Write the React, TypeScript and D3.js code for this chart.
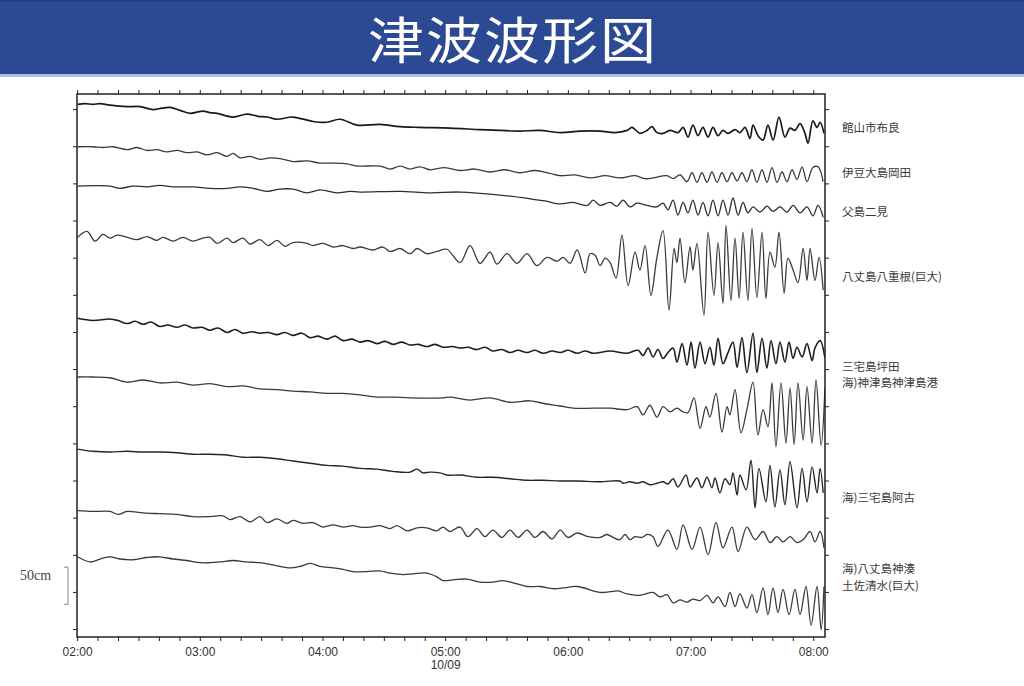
import React from "react";
import * as d3 from "d3";

// ---------- DATA ----------
// time in minutes after 02:00 (10/09), sea level deviation in cm
const stationNames = [
  "館山市布良",
  "伊豆大島岡田",
  "父島二見",
  "八丈島八重根(巨大)",
  "三宅島坪田",
  "海)神津島神津島港",
  "海)三宅島阿古",
  "海)八丈島神湊",
  "土佐清水(巨大)",
];

// vertical offset of each trace on the cm axis
const traceOffsets = [707, 650, 597, 528, 419, 340, 243, 160, 98];
// label anchor level (cm axis)
const labelLevels = [676, 616, 563, 476, 355, 333, 178, 83, 60];

const tateyama: [number, number][] = [
  [0,0],[3.6,1],[7.5,0],[11,1],[15.8,-1],[24.2,-3],[30.5,-3],[36.9,-7],[41.3,-5],[45.2,-4],[50.1,-8],[55,-12],[61.3,-9],[64.7,-11],[68.2,-12],[76,-17],[82.8,-13],[88.2,-16],[92.6,-17],[97.5,-20],[105.3,-17],[115.1,-23],[121.9,-24],[128.3,-20],[136.6,-28],[147.9,-27],[157.7,-30],[167.4,-31],[182.1,-32],[196.8,-34],[206.5,-35],[216.3,-36],[226.1,-35],[236,-38],[245.7,-36],[255.5,-36],[262.8,-38],[268.7,-35],[271.1,-31],[275,-39],[278.5,-35],[280.9,-30],[283.3,-38],[286.3,-39],[289.7,-35],[293.6,-38],[296.1,-31],[298.5,-44],[300.9,-28],[303.4,-42],[305.8,-31],[308.3,-44],[310.7,-31],[313.2,-42],[315.6,-35],[318.1,-39],[321.5,-34],[323.9,-38],[326.4,-31],[328.8,-46],[330.3,-28],[332.7,-42],[335.2,-48],[337.6,-28],[340.1,-48],[343,-17],[345.9,-44],[348.4,-32],[350.8,-35],[353.3,-26],[355.7,-39],[357.2,-52],[359.6,-22],[361.6,-31],[363.1,-24],[365,-39],
];

const izuOshima: [number, number][] = [
  [0,0],[7.5,0],[12.4,-1],[17.3,0],[24.2,-4],[29,-1],[33.9,-5],[38.8,-4],[43.7,-7],[48.6,-5],[53.5,-8],[58.4,-7],[63.3,-11],[68.2,-8],[73.1,-13],[76,-9],[79.4,-15],[84.3,-13],[89.2,-17],[94.1,-15],[99,-16],[105.3,-20],[112.2,-19],[118.5,-22],[124.9,-22],[131.7,-23],[136.6,-26],[147.9,-26],[152.8,-30],[157.7,-26],[162.6,-30],[167.4,-27],[172.3,-31],[179.6,-28],[187,-32],[194.3,-30],[201.7,-34],[209,-31],[216.3,-35],[223.7,-32],[231,-36],[236,-39],[243.2,-38],[250.6,-42],[258,-39],[265.2,-42],[272.6,-39],[277.5,-43],[281.4,-42],[288.2,-39],[291.2,-43],[294.6,-38],[298,-47],[300.5,-35],[302.9,-48],[305.3,-35],[307.8,-48],[310.2,-34],[312.7,-48],[315.1,-35],[317.6,-47],[320,-35],[322.5,-46],[324.9,-35],[327.3,-47],[329.8,-31],[332.2,-48],[334.7,-31],[337.1,-48],[339.6,-28],[342,-48],[344.5,-34],[346.9,-47],[349.4,-31],[351.8,-44],[354.3,-27],[356.7,-47],[359.6,-28],[362.1,-27],[364.6,-47],
];

const chichijima: [number, number][] = [
  [0,0],[15.8,0],[20.7,-3],[27.1,0],[33.9,-1],[40.2,1],[46.7,-1],[56.4,-1],[64.7,-3],[73.1,-3],[79.4,-1],[85.8,-3],[92.6,-7],[99,-4],[105.3,-4],[112.2,-9],[118.5,-5],[126.8,-9],[133.2,-7],[138.1,-8],[157.7,-7],[172.3,-9],[187,-8],[206.5,-12],[221.2,-17],[228.6,-20],[236,-24],[242.3,-22],[249.2,-26],[252.1,-19],[255.5,-26],[260.4,-22],[263.8,-27],[266.7,-19],[270.1,-28],[273.6,-23],[278.5,-26],[283.3,-28],[286.3,-23],[288.7,-32],[291.2,-19],[293.6,-39],[296.1,-22],[298.5,-36],[300.9,-19],[303.4,-39],[305.8,-22],[308.3,-40],[310.7,-19],[313.2,-40],[315.6,-19],[318.1,-39],[320.5,-16],[323,-39],[325.4,-22],[327.8,-36],[330.3,-28],[333.7,-35],[337.1,-27],[340.1,-34],[343.5,-28],[346.9,-35],[349.9,-26],[353.3,-36],[356.7,-28],[359.6,-40],[362.1,-26],[364.6,-42],
];

const hachijoYaene: [number, number][] = [
  [0,0],[4.6,8],[8.5,-5],[12.4,4],[15.8,-1],[19.3,3],[24.2,0],[29,-3],[33.9,1],[38.8,-4],[41.8,0],[46.7,-5],[51.5,0],[56.4,-5],[61.3,-1],[64.7,0],[68.2,-8],[73.1,-1],[76,-7],[80.9,-1],[84.3,-9],[89.2,-3],[93.1,-11],[97.5,-4],[101.4,-12],[105.3,-7],[112.2,-8],[115.1,-11],[120,-8],[124.9,-13],[129.8,-11],[134.7,-15],[138.1,-13],[144.4,-17],[149.3,-13],[152.8,-19],[157.7,-15],[162.6,-22],[166,-15],[170.8,-22],[175.7,-19],[180.6,-16],[187,-34],[191.9,-11],[196.8,-35],[201.7,-20],[205.1,-36],[210,-22],[214.9,-35],[219.8,-22],[224.6,-38],[229.6,-27],[234.5,-32],[237.4,-27],[240.8,-35],[244.3,-17],[248.2,-48],[250.6,-22],[253.1,-24],[255.5,-38],[258,-28],[260.4,-34],[263.3,-55],[266.2,3],[269.2,-65],[272.6,-20],[275,-44],[277.5,-11],[280.4,-78],[283.3,-27],[286.3,9],[289.2,-98],[291.7,-15],[293.1,-34],[294.6,-1],[297,-61],[299.5,-13],[300.9,-44],[302.9,-8],[306.3,-105],[308.3,7],[311.2,-78],[313.2,-7],[315.6,-89],[317.1,16],[319.5,-85],[321.5,-1],[323.5,-82],[325.4,7],[327.8,-85],[329.8,12],[332.2,-81],[334.7,7],[336.6,-82],[338.6,-20],[341,-40],[343,7],[345.5,-75],[347.4,-28],[349.9,-44],[352.3,-61],[354.8,-15],[356.7,-58],[358.2,-15],[360.6,-58],[362.6,-27],[364.6,-71],
];

const miyakeTsubota: [number, number][] = [
  [0,0],[7.5,-3],[15.8,-1],[19.8,-3],[24.2,-7],[28.1,-4],[32,-8],[35.9,-5],[40.2,-11],[44.2,-9],[48.6,-12],[52.5,-9],[56.4,-13],[60.8,-12],[64.7,-16],[68.7,-13],[73.1,-19],[77,-15],[80.9,-20],[85.3,-18],[89.2,-20],[93.1,-19],[97.5,-22],[101.4,-19],[105.3,-23],[109.7,-20],[113.6,-26],[117.6,-24],[121.9,-28],[125.9,-24],[129.8,-30],[134.2,-28],[138.1,-32],[142,-30],[146.4,-34],[150.3,-31],[154.2,-35],[158.6,-32],[162.6,-36],[166.5,-35],[170.8,-38],[174.8,-35],[178.7,-39],[183.1,-38],[187,-40],[190.9,-39],[195.3,-42],[199.2,-39],[203.1,-44],[207.5,-42],[211.4,-46],[215.4,-43],[219.8,-46],[223.7,-43],[227.6,-47],[232,-44],[236,-46],[239.8,-43],[244.3,-47],[248.2,-44],[252.1,-47],[260.4,-44],[268.7,-47],[274.1,-43],[276.5,-50],[279,-40],[281.4,-52],[283.8,-42],[286.3,-54],[288.7,-46],[291.2,-40],[293.1,-59],[295.6,-34],[298,-63],[300,-32],[301.9,-67],[304.4,-32],[306.8,-61],[309.2,-39],[311.2,-63],[313.2,-27],[315.6,-61],[318.1,-46],[320.5,-32],[322.5,-66],[324.9,-26],[327.3,-73],[330.3,-20],[332.2,-73],[334.7,-27],[337.1,-67],[339.1,-30],[341.5,-61],[343.5,-32],[345.9,-59],[347.9,-32],[349.9,-54],[351.8,-39],[354.3,-52],[356.7,-34],[359.2,-57],[360.6,-40],[363.1,-30],[365.5,-54],
];

const kozushima: [number, number][] = [
  [0,0],[7.5,0],[15.8,-1],[24.2,-7],[32,-4],[40.2,-8],[48.6,-7],[56.4,-11],[64.7,-9],[73.1,-13],[80.9,-12],[89.2,-16],[97.5,-17],[105.3,-19],[113.6,-20],[121.9,-22],[129.8,-22],[138.1,-24],[146.4,-27],[154.2,-27],[162.6,-28],[178.7,-28],[182.1,-27],[191.9,-31],[201.7,-28],[211.4,-34],[221.2,-32],[228.6,-36],[236,-39],[242.3,-42],[252.1,-42],[260.4,-42],[268.7,-44],[273.6,-40],[276.5,-51],[279.9,-38],[283.3,-54],[286.3,-40],[289.7,-47],[293.1,-42],[296.1,-47],[298.5,-48],[301.4,-28],[304.4,-69],[307.3,-40],[309.2,-54],[312.2,-22],[315.1,-74],[317.6,-40],[319,-51],[321.5,-17],[324.4,-75],[327.3,-44],[330.3,-7],[332.7,-78],[335.2,-44],[337.6,-67],[339.6,-8],[341.5,-94],[344,-8],[346.4,-89],[348.4,-15],[350.4,-91],[352.3,-8],[354.8,-85],[356.7,-13],[359.2,-89],[361.1,-4],[363.6,-92],[365.5,-13],
];

const miyakeAko: [number, number][] = [
  [0,0],[7.5,-3],[15.8,-4],[24.2,-3],[32,-4],[40.2,-4],[48.6,-5],[56.4,-7],[64.7,-7],[73.1,-8],[80.9,-11],[89.2,-11],[97.5,-13],[105.3,-16],[113.6,-19],[121.9,-22],[129.8,-23],[138.1,-26],[146.4,-27],[154.2,-30],[162.6,-31],[166,-27],[168.9,-32],[172.3,-31],[177.2,-32],[180.6,-35],[187,-35],[195.3,-38],[203.1,-38],[211.4,-40],[219.8,-42],[227.6,-42],[236,-43],[244.3,-43],[255.5,-44],[265.2,-43],[266.7,-46],[270.1,-44],[273.6,-46],[276.5,-44],[279.9,-48],[283.3,-46],[286.3,-44],[288.7,-47],[291.2,-40],[293.6,-51],[297.5,-35],[299.5,-51],[302.9,-39],[305.3,-52],[307.8,-38],[310.2,-52],[311.7,-39],[314.1,-59],[316.6,-40],[319,-48],[320.5,-32],[322.5,-62],[323.9,-35],[326.9,-55],[329.3,-15],[331.3,-79],[333.2,-26],[336.6,-71],[338.6,-22],[341,-78],[343.5,-28],[345.9,-75],[348.4,-17],[351.8,-79],[354.3,-26],[356.7,-71],[359.2,-24],[361.6,-59],[363.1,-26],[364.6,-59],
];

const hachijoKaminato: [number, number][] = [
  [0,0],[7.5,-1],[15.8,-1],[19.8,-5],[24.2,-1],[32,-3],[40.2,-4],[48.6,-5],[56.4,-8],[64.7,-8],[71.1,-7],[74.5,-12],[79.4,-8],[84.3,-15],[89.2,-8],[92.6,-16],[97.5,-11],[102.4,-17],[105.3,-13],[110.2,-17],[115.1,-16],[120,-22],[124.9,-19],[129.8,-22],[134.7,-20],[138.1,-22],[143,-22],[147.9,-20],[152.8,-24],[156.2,-20],[161,-27],[166,-23],[170.8,-23],[175.7,-27],[178.7,-22],[182.1,-28],[187,-22],[190.9,-35],[195.3,-24],[199.2,-35],[203.1,-26],[207.5,-36],[211.4,-26],[215.4,-36],[219.8,-26],[223.7,-36],[227.6,-28],[232,-38],[236,-26],[239.8,-36],[244.3,-30],[249.7,-35],[255.5,-36],[258.9,-32],[261.9,-36],[265.2,-39],[267.7,-32],[270.1,-39],[272.6,-35],[276,-36],[278.5,-32],[281.4,-35],[283.8,-48],[288.7,-26],[293.1,-52],[296.1,-19],[300.5,-52],[304.4,-22],[308.3,-59],[312.2,-16],[315.6,-50],[320,-22],[323,-55],[327.3,-22],[331.3,-39],[335.2,-28],[338.6,-43],[342,-35],[345,-42],[348.4,-35],[351.8,-43],[354.8,-39],[358.2,-28],[360.6,-42],[363.1,-28],[365,-50],
];

const tosaShimizu: [number, number][] = [
  [0,0],[6.1,-7],[11,-3],[15.8,0],[20.7,-3],[27.1,-4],[33.9,-1],[40.2,0],[46.7,-3],[53.5,-5],[59.9,-8],[64.7,-8],[69.6,-7],[76,-5],[82.8,-7],[89.2,-8],[95.5,-11],[103.9,-15],[108.8,-13],[113.6,-9],[118.5,-13],[124.9,-15],[129.8,-17],[134.7,-20],[141.5,-20],[147.9,-19],[152.8,-22],[159.1,-24],[164,-23],[170.8,-22],[175.7,-27],[178.7,-32],[183.6,-31],[190.4,-30],[196.8,-34],[203.1,-34],[208,-32],[212.9,-35],[219.8,-40],[226.1,-40],[232.5,-43],[237.4,-42],[244.3,-40],[255.5,-48],[260.4,-47],[264.3,-46],[268.7,-50],[273.6,-52],[276.5,-51],[281.4,-48],[284.8,-54],[288.2,-51],[291.2,-62],[294.6,-58],[298,-61],[300.9,-57],[304.4,-59],[307.8,-52],[310.7,-62],[313.2,-54],[316.6,-67],[319,-48],[321.5,-67],[323.9,-50],[327.3,-69],[329.8,-51],[332.2,-75],[335.2,-42],[337.6,-78],[340.1,-42],[342.5,-75],[345,-44],[347.9,-78],[350.8,-44],[353.3,-78],[356.2,-40],[358.7,-92],[361.6,-40],[363.6,-98],[365,-40],
];

const seriesList = [tateyama, izuOshima, chichijima, hachijoYaene, miyakeTsubota, kozushima, miyakeAko, hachijoKaminato, tosaShimizu];

const hourTicks = [0, 60, 120, 180, 240, 300, 360];
const hourLabels = ["02:00", "03:00", "04:00", "05:00", "06:00", "07:00", "08:00"];
const dateLabel = "10/09";
const dateLabelTime = 180;
const scaleBarCm = 50;
const titleText = "津波波形図";

// ---------- LAYOUT ----------
const W = 1024;
const H = 686;
const PL = 77, PR = 825, PT = 94, PB = 637;

export default function App() {
  const x = d3.scaleLinear().domain([-0.3, 365.5]).range([PL, PR]);
  const y = d3.scaleLinear().domain([-10, 721]).range([PB, PT]);

  const minorTicks = d3.range(0, 361, 10);
  const yTicks = d3.range(0, 701, 50);

  const styles = [
    { c: "#1a1a1a", w: 1.7 },
    { c: "#3a3a3a", w: 1.3 },
    { c: "#2e2e2e", w: 1.3 },
    { c: "#3a3a3a", w: 1.3 },
    { c: "#1e1e1e", w: 1.6 },
    { c: "#3a3a3a", w: 1.3 },
    { c: "#262626", w: 1.4 },
    { c: "#3a3a3a", w: 1.3 },
    { c: "#3a3a3a", w: 1.3 },
  ];

  const paths = seriesList.map((s, i) => {
    const off = traceOffsets[i];
    const gen = d3
      .line<[number, number]>()
      .x((p) => x(p[0]))
      .y((p) => y(off + p[1]))
      .curve(d3.curveCatmullRom.alpha(0.5));
    return gen(s) || "";
  });

  const barBottom = 34;
  const frameColor = "#222";

  return (
    <svg
      width={W}
      height={H}
      style={{ position: "absolute", left: 0, top: 0, background: "#fff" }}
      xmlns="http://www.w3.org/2000/svg"
    >
      <rect x={0} y={0} width={W} height={H} fill="#ffffff" />
      {/* title bar */}
      <rect x={0} y={0} width={W} height={74} fill="#2c4a93" />
      <rect x={0} y={0} width={W} height={2} fill="#24407f" />
      <rect x={0} y={74} width={W} height={3} fill="#a9bfe6" />
      <g transform="translate(513,37) scale(1,0.9)">
        <text
          x={0}
          y={0}
          textAnchor="middle"
          dominantBaseline="central"
          fill="#ffffff"
          fontFamily="'Noto Sans CJK JP', sans-serif"
          fontSize={56}
          letterSpacing={2}
        >
          {titleText}
        </text>
      </g>

      {/* traces */}
      <defs>
        <clipPath id="plotclip">
          <rect x={PL} y={PT} width={PR - PL} height={PB - PT} />
        </clipPath>
      </defs>
      <g clipPath="url(#plotclip)">
        {paths.map((d, i) => (
          <path key={i} d={d} fill="none" stroke={styles[i].c} strokeWidth={styles[i].w} strokeLinejoin="round" />
        ))}
      </g>

      {/* frame */}
      <rect x={PL} y={PT} width={PR - PL} height={PB - PT} fill="none" stroke={frameColor} strokeWidth={1.5} />
      {minorTicks.map((t) => (
        <g key={"t" + t}>
          <line x1={x(t)} x2={x(t)} y1={PB} y2={PB + 4} stroke={frameColor} strokeWidth={1} />
          <line x1={x(t)} x2={x(t)} y1={PT} y2={PT - 4} stroke={frameColor} strokeWidth={1} />
        </g>
      ))}
      {yTicks.map((v) => (
        <g key={"y" + v}>
          <line x1={PL} x2={PL - 4} y1={y(v)} y2={y(v)} stroke={frameColor} strokeWidth={1} />
          <line x1={PR} x2={PR + 4} y1={y(v)} y2={y(v)} stroke={frameColor} strokeWidth={1} />
        </g>
      ))}

      {/* x labels */}
      {hourTicks.map((t, i) => (
        <text
          key={"h" + t}
          x={x(t)}
          y={652}
          textAnchor="middle"
          dominantBaseline="central"
          fontFamily="'Liberation Sans', Arial, sans-serif"
          fontSize={12}
          fill="#333"
        >
          {hourLabels[i]}
        </text>
      ))}
      <text
        x={x(dateLabelTime)}
        y={665}
        textAnchor="middle"
        dominantBaseline="central"
        fontFamily="'Liberation Sans', Arial, sans-serif"
        fontSize={12}
        fill="#333"
      >
        {dateLabel}
      </text>

      {/* scale bar */}
      <path
        d={`M${64},${y(barBottom + scaleBarCm)}H${68}V${y(barBottom)}H${64}`}
        fill="none"
        stroke="#888"
        strokeWidth={1}
      />
      <text
        x={20}
        y={575}
        dominantBaseline="central"
        fontFamily="'Liberation Serif', 'Times New Roman', serif"
        fontSize={14}
        fill="#444"
      >
        {scaleBarCm + "cm"}
      </text>

      {/* station labels */}
      {stationNames.map((n, i) => (
        <text
          key={n}
          x={842}
          y={y(labelLevels[i])}
          dominantBaseline="central"
          fontFamily="'Noto Sans CJK JP', sans-serif"
          fontSize={11.5}
          fill="#3a3a3a"
        >
          {n}
        </text>
      ))}
    </svg>
  );
}
